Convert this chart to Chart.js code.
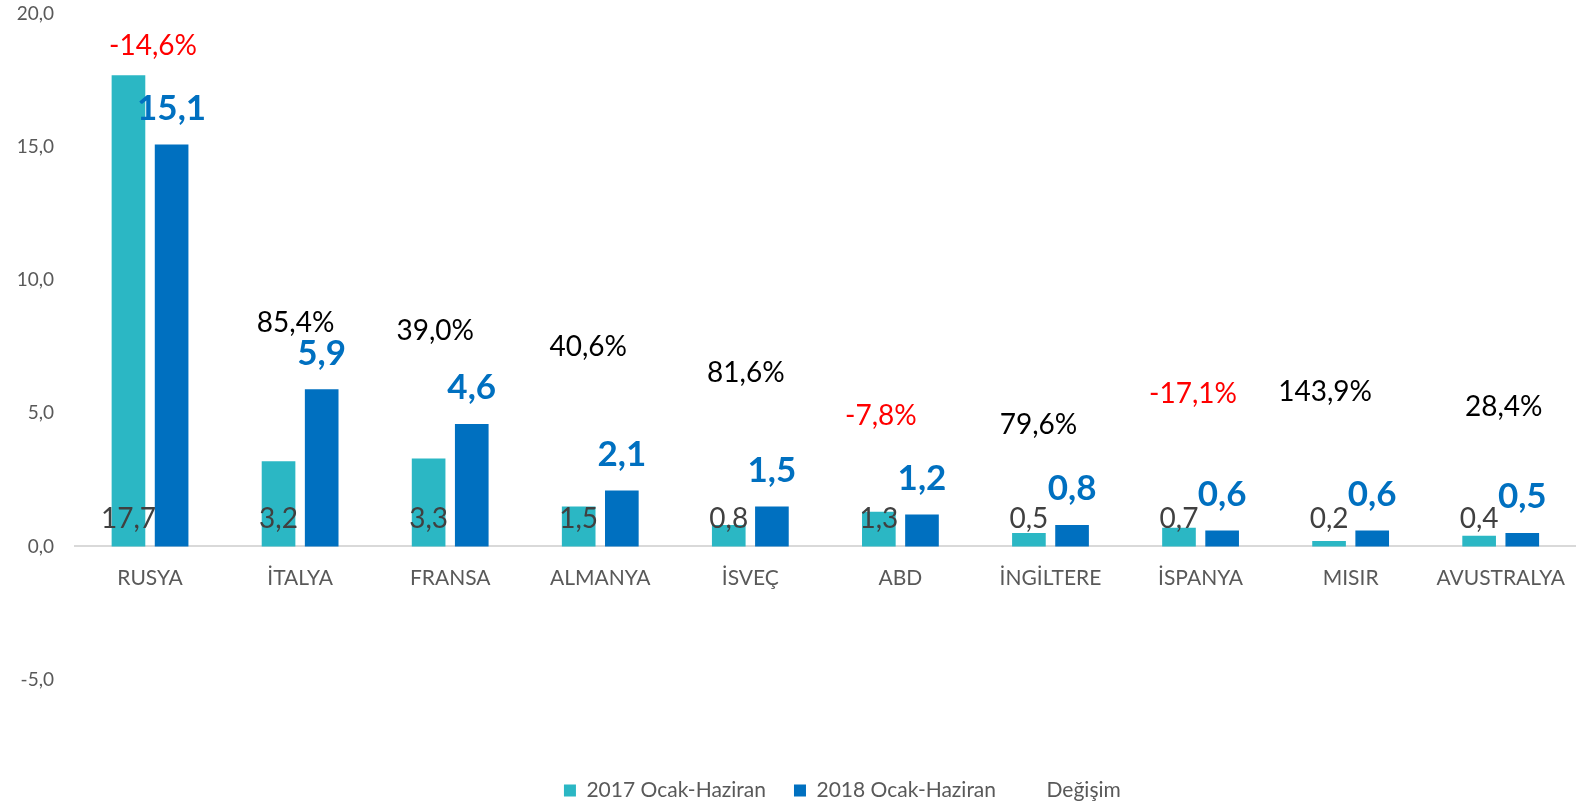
<!DOCTYPE html>
<html>
<head>
<meta charset="utf-8">
<script src="https://cdn.jsdelivr.net/npm/chart.js@4.4.1/dist/chart.umd.min.js"></script>
<style>
  html, body { margin: 0; padding: 0; background: #ffffff; }
  #wrap { width: 1576px; height: 805px; }
</style>
</head>
<body>
<div id="wrap"><canvas id="chart"></canvas></div>
<script>
// Veriler
const categories = ['RUSYA', 'İTALYA', 'FRANSA', 'ALMANYA', 'İSVEÇ', 'ABD', 'İNGİLTERE', 'İSPANYA', 'MISIR', 'AVUSTRALYA'];
const values2017 = [17.7, 3.2, 3.3, 1.5, 0.8, 1.3, 0.5, 0.7, 0.2, 0.4];
const values2018 = [15.1, 5.9, 4.6, 2.1, 1.5, 1.2, 0.8, 0.6, 0.6, 0.5];
const degisim = [-14.6, 85.4, 39.0, 40.6, 81.6, -7.8, 79.6, -17.1, 143.9, 28.4];
const yTickValues = [-5, 0, 5, 10, 15, 20];

// Değişim etiketlerinin yerleşimi (y ekseni biriminde yükseklik, kategori biriminde kaydırma)
const degisimLabelY = [18.8, 8.4, 8.1, 7.48, 6.52, 4.91, 4.57, 5.71, 5.79, 5.24];
const degisimLabelDx = [0.02, -0.03, -0.10, -0.08, -0.03, -0.13, -0.08, -0.05, -0.17, 0.02];

const FONT = 'Lato, "Open Sans", sans-serif';
const fmt = v => v.toFixed(1).replace('.', ',');

const labelPlugin = {
    id: 'barLabels',
    afterLayout(chart) {
        // lejant Excel'deki gibi biraz sağda
        chart.legend.left += 34;
    },
    afterDatasetsDraw(chart) {
        const ctx = chart.ctx;
        const y = chart.scales.y;
        const x = chart.scales.x;
        const zero = y.getPixelForValue(0);
        ctx.save();
        ctx.textAlign = 'center';
        ctx.textBaseline = 'middle';

        // 2017 değerleri - çubuk tabanında
        ctx.font = '28px ' + FONT;
        ctx.fillStyle = '#404040';
        chart.getDatasetMeta(0).data.forEach((bar, i) => {
            ctx.fillText(fmt(values2017[i]), bar.x, zero - 27);
        });

        // 2018 değerleri - çubuğun üstünde, kalın mavi
        ctx.font = 'bold 35px ' + FONT;
        ctx.fillStyle = '#0070C0';
        chart.getDatasetMeta(1).data.forEach((bar, i) => {
            ctx.fillText(fmt(values2018[i]), bar.x, bar.y - 36);
        });

        // Değişim yüzdeleri
        ctx.font = '28px ' + FONT;
        const step = x.getPixelForValue(1) - x.getPixelForValue(0);
        degisim.forEach((v, i) => {
            ctx.fillStyle = v < 0 ? '#FF0000' : '#000000';
            const px = x.getPixelForValue(i) + degisimLabelDx[i] * step;
            const py = y.getPixelForValue(degisimLabelY[i]);
            ctx.fillText(fmt(v) + '%', px, py);
        });
        ctx.restore();
    }
};

const ctx = document.getElementById('chart').getContext('2d');
new Chart(ctx, {
    data: {
        labels: categories,
        datasets: [
            {
                type: 'bar',
                label: '2017 Ocak-Haziran',
                data: values2017,
                backgroundColor: '#2BB7C4',
                categoryPercentage: 0.575,
                barPercentage: 0.78
            },
            {
                type: 'bar',
                label: '2018 Ocak-Haziran',
                data: values2018,
                backgroundColor: '#0070C0',
                categoryPercentage: 0.575,
                barPercentage: 0.78
            },
            {
                type: 'line',
                label: 'Değişim',
                data: degisim,
                yAxisID: 'y2',
                showLine: false,
                pointRadius: 0,
                borderColor: 'rgba(0,0,0,0)',
                backgroundColor: 'rgba(0,0,0,0)'
            }
        ]
    },
    options: {
        responsive: true,
        maintainAspectRatio: false,
        animation: false,
        layout: { padding: { top: 14, right: 0, left: 0, bottom: -6 } },
        plugins: {
            legend: {
                position: 'bottom',
                fullSize: false,
                title: { display: true, text: '', font: { size: 1, lineHeight: 1 }, padding: { top: 71.5, bottom: 0 } },
                labels: {
                    boxWidth: 12,
                    boxHeight: 12,
                    padding: 28,
                    color: '#595959',
                    font: { family: FONT, size: 21 }
                }
            },
            tooltip: { enabled: false }
        },
        scales: {
            x: {
                position: { y: 0 },
                grid: { display: false },
                border: { display: true, color: '#D9D9D9', width: 2 },
                ticks: { color: '#595959', font: { family: FONT, size: 21 }, padding: 11, maxRotation: 0 }
            },
            y: {
                min: -5,
                max: 20,
                afterBuildTicks: axis => { axis.ticks = yTickValues.map(v => ({ value: v })); },
                afterFit: axis => {
                    axis.width = 75;
                    axis.paddingTop = 0;
                    axis.paddingBottom = 0;
                },
                grid: { display: false, drawTicks: false },
                border: { display: false },
                ticks: {
                    color: '#595959',
                    font: { family: FONT, size: 19 },
                    padding: 21,
                    callback: v => fmt(v)
                }
            },
            y2: { display: false, min: -200, max: 200 }
        }
    },
    plugins: [labelPlugin]
});
</script>
</body>
</html>
